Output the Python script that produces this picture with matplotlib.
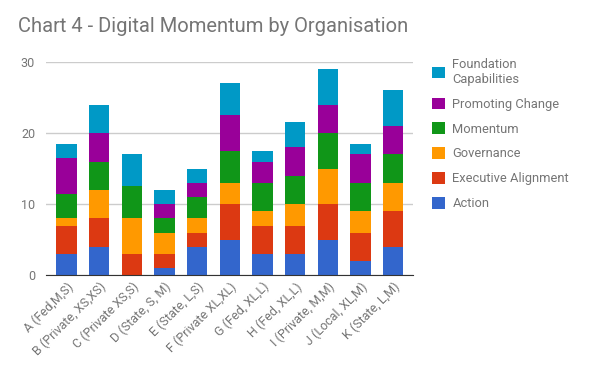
import numpy as np
import matplotlib.pyplot as plt

plt.rcParams['font.family'] = ['Roboto', 'DejaVu Sans']

# organisations
orgs = ['A (Fed,M,S)', 'B (Private, XS,XS)', 'C (Private XS,S)', 'D (State, S, M)',
        'E (State, L,S)', 'F (Private XL,XL)', 'G (Fed, XL,L)', 'H (Fed, XL,L)',
        'I (Private, M,M)', 'J (Local, XL,M)', 'K (State, L,M)']

# scores per dimension (bottom to top)
action = [3, 4, 0, 1, 4, 5, 3, 3, 5, 2, 4]
executive = [4, 4, 3, 2, 2, 5, 4, 4, 5, 4, 5]
governance = [1, 4, 5, 3, 2, 3, 2, 3, 5, 3, 4]
momentum = [3.5, 4, 4.5, 2, 3, 4.5, 4, 4, 5, 4, 4]
promoting = [5, 4, 0, 2, 2, 5, 3, 4, 4, 4, 4]
foundation = [2, 4, 4.5, 2, 2, 4.5, 1.5, 3.5, 5, 1.5, 5]

series = [
    ('Action', action, '#3366cc'),
    ('Executive Alignment', executive, '#dc3912'),
    ('Governance', governance, '#ff9900'),
    ('Momentum', momentum, '#109618'),
    ('Promoting Change', promoting, '#990099'),
    ('Foundation\nCapabilities', foundation, '#0099c6'),
]

fig = plt.figure(figsize=(6, 3.71), dpi=100)
ax = fig.add_axes([0.077, 0.258, 0.612, 0.575])

x = np.arange(len(orgs))
bottom = np.zeros(len(orgs))
handles = []
for name, vals, col in series:
    b = ax.bar(x, vals, 0.63, bottom=bottom, color=col, label=name, zorder=3)
    handles.append(b)
    bottom += np.array(vals)

ax.set_ylim(0, 30)
ax.set_xlim(-0.62, len(orgs) - 0.38)
ax.set_yticks([0, 10, 20, 30])
ax.yaxis.grid(True, color='#cccccc', linewidth=1, zorder=0)
for s in ['top', 'right', 'left']:
    ax.spines[s].set_visible(False)
ax.spines['bottom'].set_color('#333333')
ax.spines['bottom'].set_zorder(4)
ax.tick_params(axis='both', length=0, colors='#757575', labelsize=9)
ax.tick_params(axis='y', pad=8)
ax.set_xticks(x)
ax.set_xticklabels(orgs, rotation=45, ha='right', rotation_mode='anchor')

fig.text(0.03, 0.915, 'Chart 4 - Digital Momentum by Organisation',
         fontsize=14.5, color='#757575')

leg = fig.legend(handles[::-1], [s[0] for s in series[::-1]],
                 loc='upper left', bbox_to_anchor=(0.7, 0.875),
                 frameon=False, fontsize=9.3, handlelength=1.0, handleheight=1.0,
                 labelspacing=0.9, handletextpad=0.6)
for t in leg.get_texts():
    t.set_color('#757575')

fig.savefig('out.png', dpi=100)
